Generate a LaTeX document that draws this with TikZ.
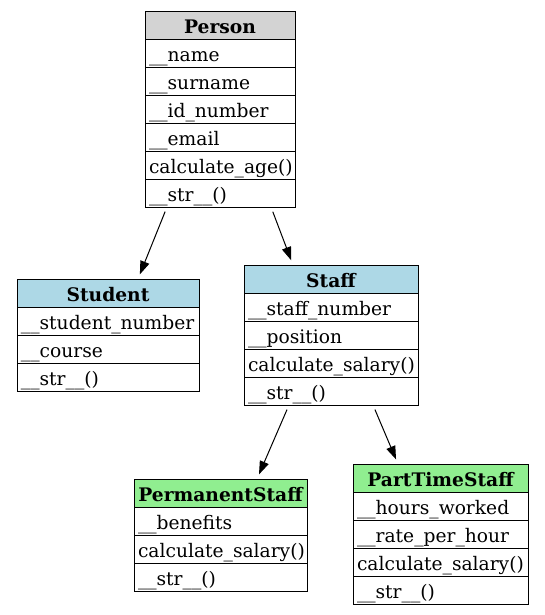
\documentclass[tikz,border=0pt]{standalone}
\usepackage{fontspec}
\setmainfont{DejaVu Serif}
\usetikzlibrary{arrows.meta,calc}
\definecolor{hdrgray}{HTML}{D3D3D3}
\definecolor{hdrblue}{HTML}{ADD8E6}
\definecolor{hdrgreen}{HTML}{90EE90}
\begin{document}
\begin{tikzpicture}[x=0.75pt,y=-0.75pt,
  cls/.style={draw, line width=0.75pt, outer sep=0pt, minimum height=21pt, text height=16.8pt, text depth=4.2pt, inner xsep=3pt, inner ysep=0pt, anchor=north, font=\fontsize{14}{16}\selectfont},
  hdr/.style={cls, font=\fontsize{14}{16}\selectfont\bfseries, align=center},
  fld/.style={cls, align=left},
  inh/.style={-{Triangle[length=10pt,width=7pt]}, line width=0.75pt, shorten <=3.75pt, shorten >=3.75pt}]
\useasboundingbox (0,0) rectangle (544,615);

% Person
\node[hdr, fill=hdrgray, text width=106.5pt] (person0) at (220,11) {Person};
\node[fld, text width=106.5pt] (person1) at (person0.south) {\_\_name};
\node[fld, text width=106.5pt] (person2) at (person1.south) {\_\_surname};
\node[fld, text width=106.5pt] (person3) at (person2.south) {\_\_id\_number};
\node[fld, text width=106.5pt] (person4) at (person3.south) {\_\_email};
\node[fld, text width=106.5pt] (person5) at (person4.south) {calculate\_age()};
\node[fld, text width=106.5pt] (person6) at (person5.south) {\_\_str\_\_()};

% Student
\node[hdr, fill=hdrblue, text width=130.5pt] (student0) at (108,279) {Student};
\node[fld, text width=130.5pt] (student1) at (student0.south) {\_\_student\_number};
\node[fld, text width=130.5pt] (student2) at (student1.south) {\_\_course};
\node[fld, text width=130.5pt] (student3) at (student2.south) {\_\_str\_\_()};

% Staff
\node[hdr, fill=hdrblue, text width=124.5pt] (staff0) at (331,265) {Staff};
\node[fld, text width=124.5pt] (staff1) at (staff0.south) {\_\_staff\_number};
\node[fld, text width=124.5pt] (staff2) at (staff1.south) {\_\_position};
\node[fld, text width=124.5pt] (staff3) at (staff2.south) {calculate\_salary()};
\node[fld, text width=124.5pt] (staff4) at (staff3.south) {\_\_str\_\_()};

% PermanentStaff
\node[hdr, fill=hdrgreen, text width=123.75pt] (perm0) at (220.5,479) {PermanentStaff};
\node[fld, text width=123.75pt] (perm1) at (perm0.south) {\_\_benefits};
\node[fld, text width=123.75pt] (perm2) at (perm1.south) {calculate\_salary()};
\node[fld, text width=123.75pt] (perm3) at (perm2.south) {\_\_str\_\_()};

% PartTimeStaff
\node[hdr, fill=hdrgreen, text width=125.25pt] (pt0) at (440.5,464) {PartTimeStaff};
\node[fld, text width=125.25pt] (pt1) at (pt0.south) {\_\_hours\_worked};
\node[fld, text width=125.25pt] (pt2) at (pt1.south) {\_\_rate\_per\_hour};
\node[fld, text width=125.25pt] (pt3) at (pt2.south) {calculate\_salary()};
\node[fld, text width=125.25pt] (pt4) at (pt3.south) {\_\_str\_\_()};

% Inheritance edges
\draw[inh] ($(person6.south west)+(22,0)$) -- ($(student0.north west)+(121,0)$);
\draw[inh] ($(person6.south west)+(126,0)$) -- ($(staff0.north west)+(49,0)$);
\draw[inh] ($(staff4.south west)+(45,0)$) -- ($(perm0.north west)+(123,0)$);
\draw[inh] ($(staff4.south west)+(129,0)$) -- ($(pt0.north west)+(45,0)$);
\end{tikzpicture}
\end{document}
